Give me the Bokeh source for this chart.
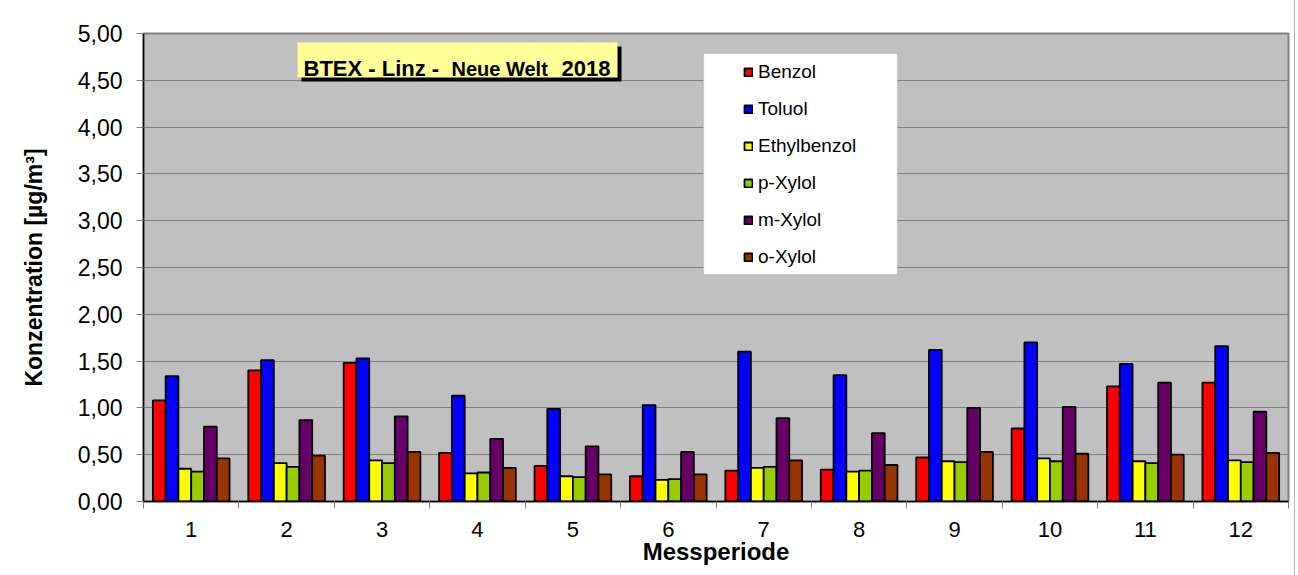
from bokeh.plotting import figure
from bokeh.models import (ColumnDataSource, FixedTicker, Legend, LegendItem,
                          BoxAnnotation, Label, Range1d)
from bokeh.transform import dodge
from bokeh.embed import file_html
from bokeh.resources import INLINE

# ---------------- data ----------------
periods = ["1", "2", "3", "4", "5", "6", "7", "8", "9", "10", "11", "12"]
benzol      = [1.08, 1.40, 1.48, 0.52, 0.38, 0.27, 0.33, 0.34, 0.47, 0.78, 1.23, 1.27]
toluol      = [1.34, 1.51, 1.53, 1.13, 0.99, 1.03, 1.60, 1.35, 1.62, 1.70, 1.47, 1.66]
ethylbenzol = [0.35, 0.41, 0.44, 0.30, 0.27, 0.23, 0.36, 0.32, 0.43, 0.46, 0.43, 0.44]
p_xylol     = [0.32, 0.37, 0.41, 0.31, 0.26, 0.24, 0.37, 0.33, 0.42, 0.43, 0.41, 0.42]
m_xylol     = [0.80, 0.87, 0.91, 0.67, 0.59, 0.53, 0.89, 0.73, 1.00, 1.01, 1.27, 0.96]
o_xylol     = [0.46, 0.49, 0.53, 0.36, 0.29, 0.29, 0.44, 0.39, 0.53, 0.51, 0.50, 0.52]
series_names = ["Benzol", "Toluol", "Ethylbenzol", "p-Xylol", "m-Xylol", "o-Xylol"]
series_colors = ["#ff0000", "#0000ff", "#ffff00", "#99cc00", "#660066", "#993300"]
y_ticks = [0.0, 0.5, 1.0, 1.5, 2.0, 2.5, 3.0, 3.5, 4.0, 4.5, 5.0]
y_tick_labels = ["0,00", "0,50", "1,00", "1,50", "2,00", "2,50", "3,00",
                 "3,50", "4,00", "4,50", "5,00"]

FONT = "Liberation Sans"

# frame geometry in canvas pixels (used only for annotation placement)
FL, FR, FT, FB = 143, 1288, 33, 501
NG = len(periods)
YMAX = 5.0


def X(px):
    return (px - FL) / (FR - FL) * NG


def Y(py):
    return (FB - py) / (FB - FT) * YMAX


data = dict(x=[i + 0.5 for i in range(NG)])
for name, vals in zip(series_names, [benzol, toluol, ethylbenzol, p_xylol, m_xylol, o_xylol]):
    data[name] = vals
source = ColumnDataSource(data)

p = figure(width=1295, height=575, output_backend="svg", toolbar_location=None,
           x_range=Range1d(0, NG), y_range=Range1d(0, YMAX),
           min_border_left=FL, min_border_right=1295 - FR, min_border_top=FT,
           min_border_bottom=575 - FB)
p.background_fill_color = "#c0c0c0"
p.border_fill_color = "white"
p.outline_line_color = "#808080"
p.outline_line_width = 2
p.styles = {"border-right": "1px solid #b4b4b4"}

# bars
bw = 0.134
renderers = []
for j, (name, col) in enumerate(zip(series_names, series_colors)):
    r = p.vbar(x=dodge("x", (j - 2.5) * bw, range=p.x_range), top=name, width=bw,
               bottom=0, source=source, fill_color=col, line_color="black",
               line_width=1.8)
    renderers.append(r)

# grid
p.xgrid.visible = False
p.ygrid.ticker = FixedTicker(ticks=y_ticks)
p.ygrid.grid_line_color = "#808080"
p.ygrid.grid_line_width = 1

# y axis
ya = p.yaxis[0]
ya.ticker = FixedTicker(ticks=y_ticks)
ya.major_label_overrides = {t: l for t, l in zip(y_ticks, y_tick_labels)}
ya.minor_tick_line_color = None
ya.major_tick_out = 7
ya.major_tick_in = 0
ya.major_tick_line_color = "#808080"
ya.axis_line_color = "black"
ya.axis_line_width = 1.5
ya.major_label_text_font = FONT
ya.major_label_text_font_size = "23px"
ya.major_label_text_color = "black"
ya.major_label_standoff = 14
ya.axis_label = "Konzentration [µg/m³]"
ya.axis_label_text_font = FONT
ya.axis_label_text_font_size = "23px"
ya.axis_label_text_font_style = "bold"
ya.axis_label_text_color = "black"
ya.axis_label_standoff = 28

# x axis
xa = p.xaxis[0]
xa.ticker = FixedTicker(ticks=[i + 0.5 for i in range(NG)],
                        minor_ticks=list(range(NG + 1)))
xa.major_label_overrides = {i + 0.5: lab for i, lab in enumerate(periods)}
xa.major_tick_out = 0
xa.major_tick_in = 0
xa.minor_tick_out = 7
xa.minor_tick_in = 0
xa.minor_tick_line_color = "#808080"
xa.axis_line_color = "black"
xa.axis_line_width = 1.5
xa.major_label_text_font = FONT
xa.major_label_text_font_size = "22px"
xa.major_label_text_color = "black"
xa.major_label_standoff = 13
xa.axis_label = "Messperiode"
xa.axis_label_text_font = FONT
xa.axis_label_text_font_size = "24px"
xa.axis_label_text_font_style = "bold"
xa.axis_label_text_color = "black"
xa.axis_label_standoff = -2

# legend box
p.add_layout(BoxAnnotation(left=X(703), right=X(897), top=Y(53), bottom=Y(274),
                           fill_color="white", fill_alpha=1, line_color="#a0a0a0",
                           line_width=1.5, level="annotation"))
legend = Legend(items=[LegendItem(label=n, renderers=[r]) for n, r in zip(series_names, renderers)],
                location=(743 - FL, FB - 268),
                background_fill_alpha=0, border_line_color=None,
                glyph_width=10, glyph_height=10, label_height=20,
                label_standoff=5, spacing=15, padding=8, margin=0,
                label_text_font=FONT, label_text_font_size="19px",
                label_text_color="black", level="overlay")
p.add_layout(legend)

# title box with shadow
p.add_layout(BoxAnnotation(left=X(301), right=X(621), top=Y(46), bottom=Y(81),
                           fill_color="black", fill_alpha=1, line_color=None,
                           level="annotation"))
p.add_layout(BoxAnnotation(left=X(297), right=X(617), top=Y(42), bottom=Y(77),
                           fill_color="#ffff99", fill_alpha=1, line_color=None,
                           level="annotation"))
for txt, px, size in [("BTEX - Linz - ", 303, "22px"), ("Neue Welt", 451, "20px"),
                      ("2018", 561, "22px")]:
    p.add_layout(Label(x=X(px), y=Y(68), text=txt, text_font=FONT, text_font_size=size,
                       text_font_style="bold", text_color="black",
                       text_baseline="alphabetic", text_align="left",
                       level="overlay"))

open("out.html", "w").write(file_html(p, INLINE))
